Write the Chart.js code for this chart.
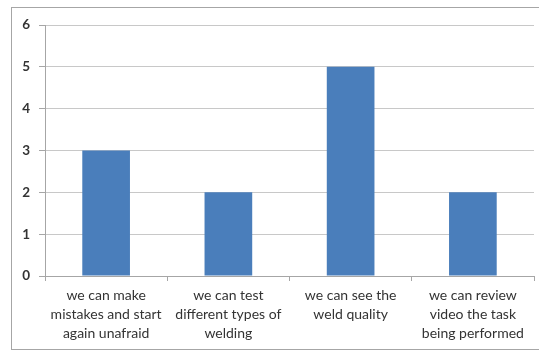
<!DOCTYPE html>
<html>
<head>
<meta charset="utf-8">
<script src="https://cdn.jsdelivr.net/npm/chart.js@4/dist/chart.umd.min.js"></script>
<style>
  html, body { margin: 0; padding: 0; background: #fff; }
  #wrap { position: relative; width: 539px; height: 352px; overflow: hidden; }
  #frame { position: absolute; left: 11px; top: 7px; width: 600px; height: 343px;
           border: 1px solid #a6a6a6; box-sizing: border-box; }
  canvas { position: absolute; left: 0; top: 0; }
</style>
</head>
<body>
<div id="wrap">
  <div id="frame"></div>
  <canvas id="c" width="539" height="352"></canvas>
</div>
<script>
// Survey answers: reasons given for preferring the welding simulator
const categories = [
  ["we can make", "mistakes and start", "again unafraid"],
  ["we can test", "different types of", "welding"],
  ["we can see the", "weld quality"],
  ["we can review", "video the task", "being performed"]
];
const responses = [3, 2, 5, 2];
const yTicks = [0, 1, 2, 3, 4, 5, 6];

const textFont = { family: "Lato, 'Open Sans', sans-serif", size: 14, lineHeight: 1.36 };

new Chart(document.getElementById('c'), {
  type: 'bar',
  data: {
    labels: categories,
    datasets: [{
      data: responses,
      backgroundColor: '#4a7ebb',
      borderWidth: 0,
      categoryPercentage: 1,
      barPercentage: 0.39
    }]
  },
  options: {
    responsive: false,
    animation: false,
    events: [],
    layout: { padding: { top: 25, right: 5, left: 0, bottom: 0 } },
    plugins: { legend: { display: false }, tooltip: { enabled: false } },
    scales: {
      x: {
        grid: { display: true, drawOnChartArea: false, drawTicks: true, tickLength: 5, color: '#a6a6a6' },
        border: { display: true, color: '#a6a6a6', width: 1 },
        ticks: { color: '#333333', font: textFont, padding: 5, maxRotation: 0, minRotation: 0, autoSkip: false },
        afterFit: (s) => { s.height = 76; }
      },
      y: {
        min: 0,
        max: yTicks[yTicks.length - 1],
        afterBuildTicks: (s) => { s.ticks = yTicks.map(v => ({ value: v })); },
        grid: { color: '#c8c8c8', tickLength: 6, tickColor: '#a6a6a6' },
        border: { display: true, color: '#a6a6a6', width: 1 },
        ticks: { color: '#333333', font: { family: textFont.family, size: 13.5, weight: 'bold' }, padding: 9 },
        afterFit: (s) => { s.width = 45; }
      }
    }
  }
});
</script>
</body>
</html>
